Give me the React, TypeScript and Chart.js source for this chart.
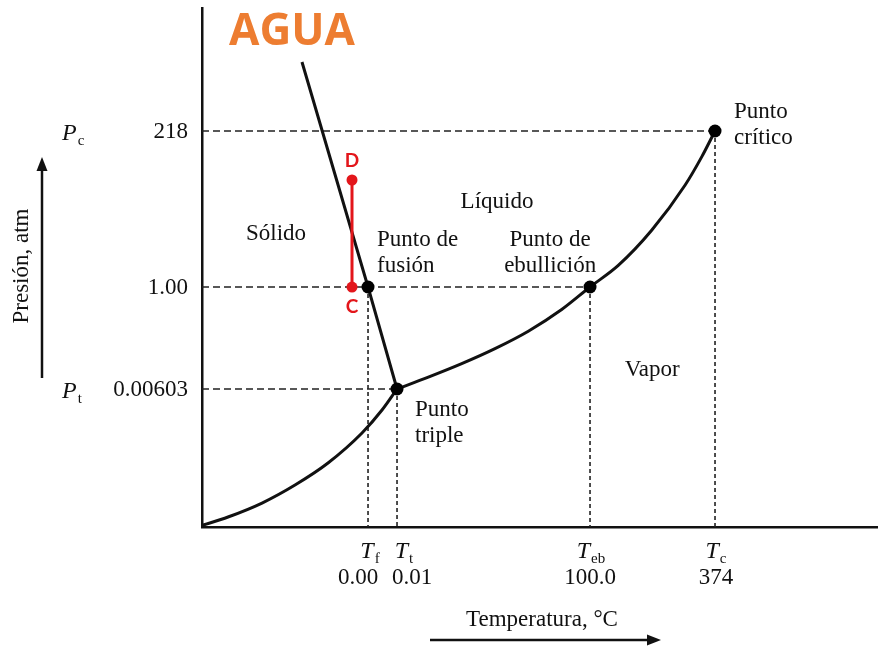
import React, { useEffect, useRef } from "react";
import { Chart, registerables } from "chart.js";

Chart.register(...registerables);

// Schematic diagram (not to scale): both axes use 0-100 schematic units.
// Temperature tick positions: Tf, Tt, Teb, Tc
const tempTicks = [24.56, 28.85, 57.4, 75.89];
const tempSymbols = ["f", "t", "eb", "c"];
const tempLabels = ["0.00", "0.01", "100.0", "374"];

// Pressure tick positions: Pt, 1 atm, Pc
const pressTicks = [26.59, 46.24, 76.3];
const pressLabels = ["0.00603", "1.00", "218"];
const pressSymbols = ["t", "", "c"];

// Sublimation curve (solid-vapor)
const sublimationT = [0, 3.85, 8.88, 13.76, 18.64, 23.67, 26.63, 28.85];
const sublimationP = [0.3, 1.93, 4.62, 8.09, 12.33, 18.11, 22.54, 26.59];

// Vaporization curve (liquid-vapor)
const vaporT = [28.85, 33.48, 38.42, 43.34, 48.27, 53.21, 57.4, 61.58, 66.52, 71.45, 73.92, 75.89];
const vaporP = [26.59, 28.88, 31.48, 34.37, 37.73, 41.9, 46.24, 50.4, 57.17, 65.84, 71.31, 76.3];

// Fusion line (solid-liquid)
const fusionT = [14.79, 24.56, 28.85];
const fusionP = [89.6, 46.24, 26.59];

// Marked points: fusion, triple, boiling, critical
const pointT = [24.56, 28.85, 57.4, 75.89];
const pointP = [46.24, 26.59, 46.24, 76.3];

// Red path C -> D
const pathT = [22.19, 22.19];
const pathP = [46.24, 66.86];
const pathLabels = ["C", "D"];

// Text labels inside the plot
const regionTexts = [
  ["Sólido"],
  ["Líquido"],
  ["Punto de", "fusión"],
  ["Punto de", "ebullición"],
  ["Vapor"],
  ["Punto", "triple"],
  ["Punto", "crítico"],
];
const regionT = [10.95, 43.64, 25.89, 51.5, 66.6, 31.51, 78.7];
const regionP = [56.45, 62.62, 55.3, 55.3, 30.25, 22.54, 80.0];
const regionAlign = ["center", "center", "left", "center", "center", "left", "left"];

const SERIF = '"Liberation Serif", "Times New Roman", serif';
const INK = "#111";
const RED = "#E3161B";
const ORANGE = "#ED7D31";

const pts = (xs: number[], ys: number[]) => xs.map((x, i) => ({ x, y: ys[i] }));

function buildDatasets() {
  const guides: any[] = [];
  pressTicks.forEach((p) => {
    const maxT = Math.max(...pointT.filter((_, i) => pointP[i] === p));
    guides.push({
      data: [{ x: 0, y: p }, { x: maxT, y: p }],
      showLine: true,
      borderColor: "#222",
      borderWidth: 1.6,
      borderDash: [7, 4],
      pointRadius: 0,
      order: 4,
    });
  });
  pointT.forEach((t, i) => {
    guides.push({
      data: [{ x: t, y: pointP[i] }, { x: t, y: 0 }],
      showLine: true,
      borderColor: "#222",
      borderWidth: 1.6,
      borderDash: [4, 3],
      pointRadius: 0,
      order: 4,
    });
  });
  const curveStyle = {
    showLine: true,
    borderColor: INK,
    borderWidth: 3,
    pointRadius: 0,
    order: 3,
  };
  return [
    ...guides,
    { ...curveStyle, data: pts(sublimationT, sublimationP), cubicInterpolationMode: "monotone" },
    { ...curveStyle, data: pts(vaporT, vaporP), cubicInterpolationMode: "monotone" },
    { ...curveStyle, data: pts(fusionT, fusionP), tension: 0 },
    {
      data: pts(pointT, pointP),
      showLine: false,
      pointRadius: 6.5,
      pointBackgroundColor: "#000",
      pointBorderWidth: 0,
      order: 2,
    },
    {
      data: pts(pathT, pathP),
      showLine: true,
      borderColor: RED,
      borderWidth: 3,
      pointRadius: 5.5,
      pointBackgroundColor: RED,
      pointBorderWidth: 0,
      order: 1,
    },
  ];
}

function drawArrow(ctx: CanvasRenderingContext2D, x1: number, y1: number, x2: number, y2: number) {
  const ang = Math.atan2(y2 - y1, x2 - x1);
  const head = 14;
  const half = 5.5;
  ctx.beginPath();
  ctx.moveTo(x1, y1);
  ctx.lineTo(x2 - Math.cos(ang) * head * 0.8, y2 - Math.sin(ang) * head * 0.8);
  ctx.lineWidth = 2.5;
  ctx.strokeStyle = INK;
  ctx.stroke();
  ctx.beginPath();
  ctx.moveTo(x2, y2);
  ctx.lineTo(x2 - Math.cos(ang) * head - Math.sin(ang) * half, y2 - Math.sin(ang) * head + Math.cos(ang) * half);
  ctx.lineTo(x2 - Math.cos(ang) * head + Math.sin(ang) * half, y2 - Math.sin(ang) * head - Math.cos(ang) * half);
  ctx.closePath();
  ctx.fillStyle = INK;
  ctx.fill();
}

const tempNumOffset = [-10, 15, 0, 1];
const tempSymOffset = [2, 7, 1, 1];

const textPlugin = {
  id: "phaseText",
  beforeDraw(chart: any) {
    const { ctx, width, height } = chart;
    ctx.save();
    ctx.fillStyle = "#fff";
    ctx.fillRect(0, 0, width, height);
    ctx.restore();
  },
  afterDraw(chart: any) {
    const ctx: CanvasRenderingContext2D = chart.ctx;
    const xs = chart.scales.x;
    const ys = chart.scales.y;
    const X = (v: number) => xs.getPixelForValue(v);
    const Y = (v: number) => ys.getPixelForValue(v);
    const left = chart.chartArea.left;
    const bottom = chart.chartArea.bottom;
    ctx.save();

    // Region / point labels
    ctx.fillStyle = INK;
    ctx.font = `23px ${SERIF}`;
    ctx.textBaseline = "middle";
    regionTexts.forEach((lines, i) => {
      ctx.textAlign = regionAlign[i] as CanvasTextAlign;
      lines.forEach((line, j) => ctx.fillText(line, X(regionT[i]), Y(regionP[i]) + j * 26));
    });

    // Pressure tick labels and P symbols
    pressTicks.forEach((p, i) => {
      const y = Y(p);
      ctx.textAlign = "right";
      ctx.font = `23px ${SERIF}`;
      ctx.fillText(pressLabels[i], left - 14, y + 1);
      if (!pressSymbols[i]) return;
      ctx.textAlign = "left";
      ctx.font = `italic 24px ${SERIF}`;
      ctx.fillText("P", 62, y + 3);
      const w = ctx.measureText("P").width;
      ctx.font = `15px ${SERIF}`;
      ctx.fillText(pressSymbols[i], 62 + w + 1, y + 10);
    });

    // T symbols and numbers under the x axis
    tempTicks.forEach((t, i) => {
      const cx = X(t) + tempSymOffset[i];
      ctx.font = `italic 24px ${SERIF}`;
      const wT = ctx.measureText("T").width;
      ctx.font = `15px ${SERIF}`;
      const wS = ctx.measureText(tempSymbols[i]).width;
      const start = cx - (wT + wS + 1) / 2;
      ctx.textAlign = "left";
      ctx.font = `italic 24px ${SERIF}`;
      ctx.fillText("T", start, bottom + 25);
      ctx.font = `15px ${SERIF}`;
      ctx.fillText(tempSymbols[i], start + wT + 1, bottom + 32);
      ctx.textAlign = "center";
      ctx.font = `23px ${SERIF}`;
      ctx.fillText(tempLabels[i], X(t) + tempNumOffset[i], bottom + 51);
    });

    // Axis titles
    ctx.font = `23px ${SERIF}`;
    ctx.textAlign = "center";
    ctx.fillText("Temperatura, °C", 542, 620);
    ctx.save();
    ctx.translate(22, 266);
    ctx.rotate(-Math.PI / 2);
    ctx.fillText("Presión, atm", 0, 0);
    ctx.restore();

    drawArrow(ctx, 42, 378, 42, 157);
    drawArrow(ctx, 430, 640, 661, 640);

    // Red path labels
    ctx.fillStyle = RED;
    ctx.font = `bold 19px Lato, "Open Sans", sans-serif`;
    ctx.textAlign = "center";
    pathLabels.forEach((lab, i) => {
      const dy = i === 0 ? 20 : -19;
      ctx.fillText(lab, X(pathT[i]), Y(pathP[i]) + dy);
    });

    // Title
    ctx.fillStyle = ORANGE;
    ctx.font = `bold 44px "Open Sans", "DejaVu Sans", sans-serif`;
    ctx.textBaseline = "alphabetic";
    ctx.textAlign = "center";
    ctx.fillText("AGUA", 292, 45);

    ctx.restore();
  },
};

export default function App() {
  const ref = useRef<HTMLCanvasElement>(null);
  useEffect(() => {
    if (!ref.current) return;
    const chart = new Chart(ref.current, {
      type: "scatter",
      data: { datasets: buildDatasets() as any },
      options: {
        responsive: false,
        animation: false,
        events: [],
        layout: { autoPadding: false, padding: { top: 8, right: 0, bottom: 0, left: 0 } },
        plugins: { legend: { display: false }, tooltip: { enabled: false } },
        scales: {
          x: {
            type: "linear",
            min: 0,
            max: 100,
            grid: { display: false, drawTicks: false },
            border: { display: true, color: INK, width: 2.5 },
            ticks: { display: false },
            afterFit: (s: any) => {
              s.height = 123;
            },
          },
          y: {
            type: "linear",
            min: 0,
            max: 100,
            grid: { display: false, drawTicks: false },
            border: { display: true, color: INK, width: 2.5 },
            ticks: { display: false },
            afterFit: (s: any) => {
              s.width = 202;
            },
          },
        },
      },
      plugins: [textPlugin],
    });
    return () => chart.destroy();
  }, []);
  return (
    <div style={{ position: "absolute", left: 0, top: 0, width: 878, height: 650, background: "#fff" }}>
      <canvas ref={ref} width={878} height={650} style={{ display: "block" }} />
    </div>
  );
}
